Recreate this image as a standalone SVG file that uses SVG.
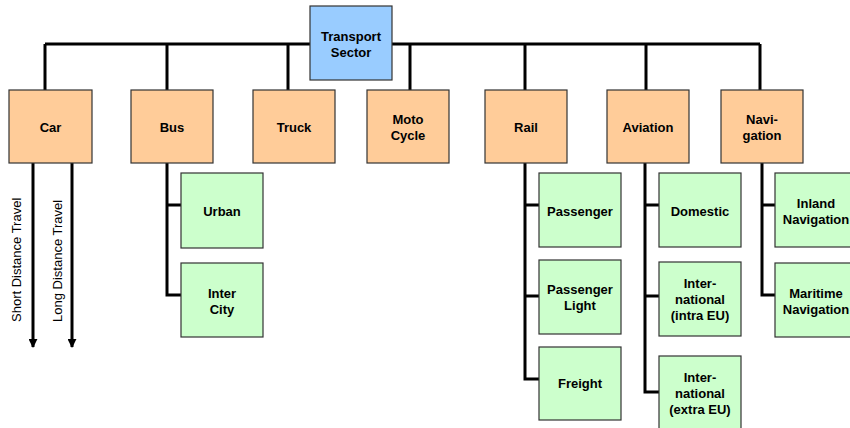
<svg xmlns="http://www.w3.org/2000/svg" width="850" height="428" viewBox="0 0 850 428">
<defs>
<marker id="ah" viewBox="0 0 10 10" refX="9" refY="5" markerWidth="3" markerHeight="3" orient="auto" markerUnits="strokeWidth">
<path d="M0,0 L10,5 L0,10 z" fill="#000"/>
</marker>
<style>
.root{fill:#99CCFF;stroke:#333;stroke-width:1.2}
.cat{fill:#FFCC99;stroke:#333;stroke-width:1.2}
.sub{fill:#CCFFCC;stroke:#333;stroke-width:1.2}
.t{font-family:"Liberation Sans",Arial,sans-serif;font-weight:bold;font-size:13px;text-anchor:middle;fill:#000}
.v{font-family:"Liberation Sans",Arial,sans-serif;font-size:13px;fill:#000}
.c{fill:none;stroke:#000;stroke-width:3}
</style>
</defs>
<rect width="850" height="428" fill="#fff"/>
<g id="connectors">
<path class="c" d="M45,44 H760 M45,44 V90 M167,44 V90 M288,44 V90 M410,44 V90 M525,44 V90 M646,44 V90 M760,44 V90"/>
<path class="c" d="M167,163 V295 H181 M167,205 H181"/>
<path class="c" d="M525,163 V379 H539 M525,205 H539 M525,296 H539"/>
<path class="c" d="M645,163 V392 H659 M645,205 H659 M645,296 H659"/>
<path class="c" d="M762,163 V295 H775 M762,205 H775"/>
<path class="c" d="M33,163 V347" marker-end="url(#ah)"/>
<path class="c" d="M72,163 V347" marker-end="url(#ah)"/>
</g>
<g id="transport-sector"><rect class="root" x="310" y="6" width="82" height="74"/><text class="t" x="351" y="40.5">Transport</text><text class="t" x="351" y="56.5">Sector</text></g>
<g id="car"><rect class="cat" x="9" y="90" width="83" height="73"/><text class="t" x="50.5" y="131.5">Car</text></g>
<g id="bus"><rect class="cat" x="131" y="90" width="82" height="73"/><text class="t" x="172" y="131.5">Bus</text></g>
<g id="truck"><rect class="cat" x="253" y="90" width="82" height="73"/><text class="t" x="294" y="131.5">Truck</text></g>
<g id="motocycle"><rect class="cat" x="367" y="90" width="82" height="73"/><text class="t" x="408" y="123.5">Moto</text><text class="t" x="408" y="139.5">Cycle</text></g>
<g id="rail"><rect class="cat" x="485" y="90" width="82" height="73"/><text class="t" x="526" y="131.5">Rail</text></g>
<g id="aviation"><rect class="cat" x="607" y="90" width="82" height="73"/><text class="t" x="648" y="131.5">Aviation</text></g>
<g id="navigation"><rect class="cat" x="721" y="90" width="82" height="73"/><text class="t" x="762" y="123.5">Navi-</text><text class="t" x="762" y="139.5">gation</text></g>
<g id="short-distance"><text class="v" transform="translate(21,322) rotate(-90)">Short Distance Travel</text></g>
<g id="long-distance"><text class="v" transform="translate(62,322) rotate(-90)">Long Distance Travel</text></g>
<g id="urban"><rect class="sub" x="181" y="173" width="82" height="75"/><text class="t" x="222" y="216">Urban</text></g>
<g id="intercity"><rect class="sub" x="181" y="263" width="82" height="74"/><text class="t" x="222" y="298">Inter</text><text class="t" x="222" y="314">City</text></g>
<g id="passenger"><rect class="sub" x="539" y="173" width="82" height="74"/><text class="t" x="580" y="216">Passenger</text></g>
<g id="passenger-light"><rect class="sub" x="539" y="260" width="82" height="74"/><text class="t" x="580" y="294">Passenger</text><text class="t" x="580" y="310">Light</text></g>
<g id="freight"><rect class="sub" x="539" y="347" width="82" height="73"/><text class="t" x="580" y="388">Freight</text></g>
<g id="domestic"><rect class="sub" x="659" y="173" width="82" height="74"/><text class="t" x="700" y="216">Domestic</text></g>
<g id="intl-intra"><rect class="sub" x="659" y="262" width="82" height="74"/><text class="t" x="700" y="288">Inter-</text><text class="t" x="700" y="304">national</text><text class="t" x="700" y="320">(intra EU)</text></g>
<g id="intl-extra"><rect class="sub" x="659" y="356" width="82" height="74"/><text class="t" x="700" y="382">Inter-</text><text class="t" x="700" y="398">national</text><text class="t" x="700" y="414">(extra EU)</text></g>
<g id="inland"><rect class="sub" x="775" y="173" width="82" height="74"/><text class="t" x="816" y="208">Inland</text><text class="t" x="816" y="224">Navigation</text></g>
<g id="maritime"><rect class="sub" x="775" y="263" width="82" height="74"/><text class="t" x="816" y="298">Maritime</text><text class="t" x="816" y="314">Navigation</text></g>
</svg>
